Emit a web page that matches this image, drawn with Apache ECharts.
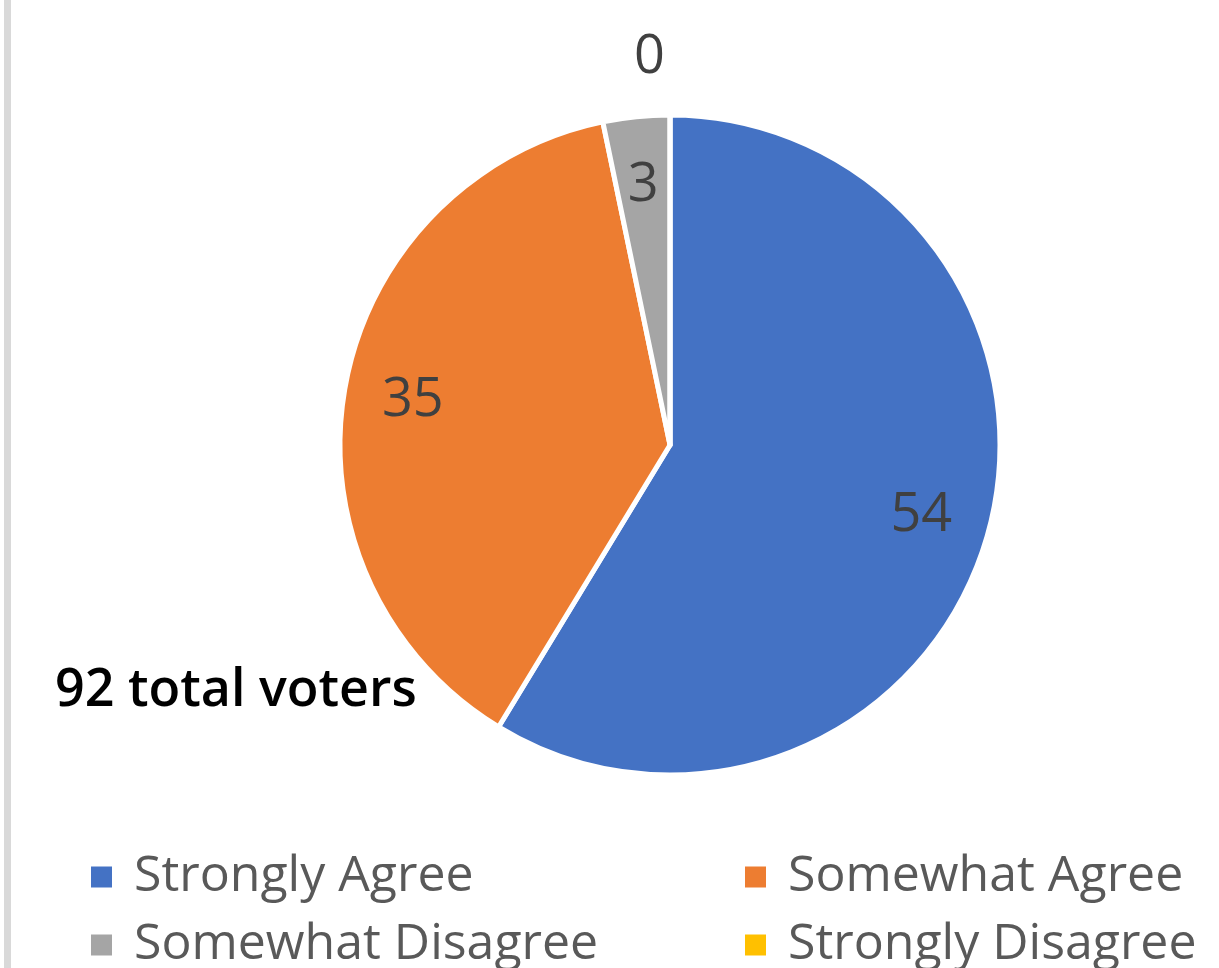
<!DOCTYPE html>
<html>
<head>
<meta charset="utf-8">
<script src="https://cdn.jsdelivr.net/npm/echarts@6/dist/echarts.min.js"></script>
<style>
  html, body { margin: 0; padding: 0; background: #fff; }
  #main { width: 1219px; height: 968px; }
</style>
</head>
<body>
<div id="main"></div>
<script>
var categories = ['Strongly Agree', 'Somewhat Agree', 'Somewhat Disagree', 'Strongly Disagree'];
var votes = [54, 35, 3, 0];
var colors = ['#4472C4', '#ED7D31', '#A5A5A5', '#FFC000'];
var totalText = '92 total voters';

var pieData = [];
var labelData = [];
for (var i = 0; i < categories.length; i++) {
    pieData.push({ name: categories[i], value: votes[i], itemStyle: { color: colors[i] } });
    var item = { name: categories[i], value: votes[i] };
    if (votes[i] === 0) {
        // zero slice: label sits outside, above the pie
        item.label = { position: 'outside' };
    }
    labelData.push(item);
}

var legendText = { color: '#595959', fontFamily: 'Open Sans', fontSize: 50, lineHeight: 48, padding: [0, 0, 0, 16] };

var myChart = echarts.init(document.getElementById('main'));
var option = {
    animation: false,
    title: {
        text: totalText,
        left: 55,
        top: 665,
        padding: 0,
        textStyle: {
            color: '#000',
            fontFamily: 'Open Sans',
            fontWeight: 600,
            fontSize: 52
        }
    },
    graphic: [{
        type: 'rect',
        shape: { x: 4, y: 0, width: 7, height: 968 },
        style: { fill: '#D9D9D9' },
        silent: true
    }],
    legend: [{
        orient: 'vertical',
        left: 89,
        top: 852,
        height: 200,
        padding: 0,
        icon: 'rect',
        itemWidth: 23,
        itemHeight: 23,
        itemGap: 18,
        selectedMode: false,
        data: [categories[0], categories[2]],
        textStyle: legendText
    }, {
        orient: 'vertical',
        left: 743,
        top: 852,
        height: 200,
        padding: 0,
        icon: 'rect',
        itemWidth: 23,
        itemHeight: 23,
        itemGap: 18,
        selectedMode: false,
        data: [categories[1], categories[3]],
        textStyle: legendText
    }],
    series: [{
        name: 'votes',
        type: 'pie',
        center: [670, 445],
        radius: 330,
        startAngle: 90,
        clockwise: true,
        silent: true,
        label: { show: false },
        labelLine: { show: false },
        itemStyle: { borderColor: '#fff', borderWidth: 5 },
        data: pieData
    }, {
        name: 'labels',
        type: 'pie',
        center: [670, 445],
        radius: [240, 276],
        startAngle: 90,
        clockwise: true,
        silent: true,
        itemStyle: { color: 'rgba(0,0,0,0)' },
        label: {
            show: true,
            position: 'inside',
            formatter: '{c}',
            color: '#404040',
            fontFamily: 'Open Sans',
            fontSize: 54
        },
        labelLine: { show: false, length: 111, length2: 0 },
        data: labelData
    }]
};
myChart.setOption(option);
</script>
</body>
</html>
